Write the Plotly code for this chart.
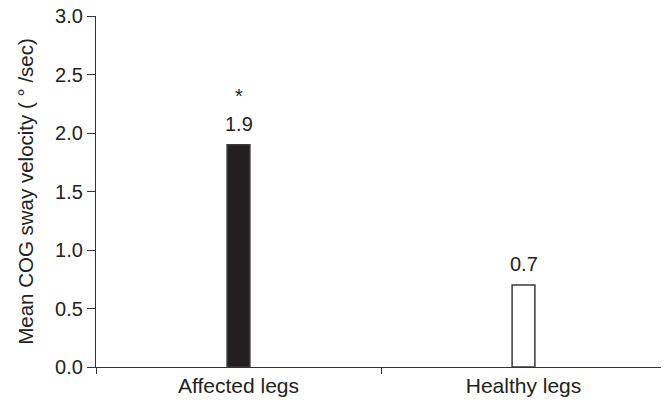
import plotly.graph_objects as go

categories = ["Affected legs", "Healthy legs"]
values = [1.9, 0.7]
value_labels = ["1.9", "0.7"]
fills = ["#231f20", "#ffffff"]
y_ticks = [0.0, 0.5, 1.0, 1.5, 2.0, 2.5, 3.0]
y_tick_labels = ["0.0", "0.5", "1.0", "1.5", "2.0", "2.5", "3.0"]

font_family = "Liberation Sans, Arial, sans-serif"
txt = "#222"

fig = go.Figure()
fig.add_trace(go.Bar(
    x=categories, y=values, width=0.08,
    marker=dict(color=fills, line=dict(color="#3a3a3a", width=1.5)),
))
for c, v, lab in zip(categories, values, value_labels):
    fig.add_annotation(x=c, y=v, text=lab, showarrow=False, yanchor="bottom",
                       yshift=8, font=dict(family=font_family, size=20, color=txt))
fig.add_annotation(x=categories[0], y=values[0], text="*", showarrow=False,
                   yanchor="bottom", yshift=36, font=dict(family=font_family, size=20, color=txt))

# page body has an 8px margin, so the figure is sized/offset to compensate
fig.update_layout(
    width=661, height=397,
    margin=dict(l=88, r=3, t=8, b=38),
    plot_bgcolor="white", paper_bgcolor="white",
    showlegend=False,
    font=dict(family=font_family, color=txt),
    xaxis=dict(
        automargin=False,
        showline=True, linecolor="#333", linewidth=1.3,
        ticks="outside", tickson="boundaries", ticklen=6, tickcolor="#333", tickwidth=1.3,
        tickfont=dict(size=21, color=txt), ticklabeloverflow="allow",
        showgrid=False, zeroline=False,
    ),
    yaxis=dict(
        automargin=False,
        range=[0, 3.0], tickvals=y_ticks, ticktext=y_tick_labels,
        showline=True, linecolor="#333", linewidth=1.3,
        ticks="outside", ticklen=8, tickcolor="#333", tickwidth=1.3,
        tickfont=dict(size=20, color=txt), ticklabeloverflow="allow",
        showgrid=False, zeroline=False,
        title=dict(text="Mean COG sway velocity ( ° /sec)", font=dict(size=20.5, color=txt)),
    ),
)

fig.write_html("out.html")
